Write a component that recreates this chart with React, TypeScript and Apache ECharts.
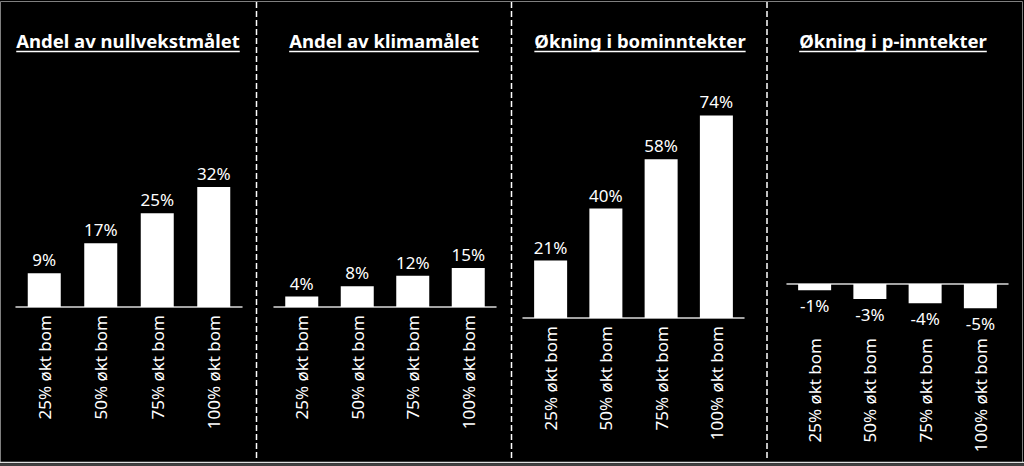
import React, { useEffect, useRef } from "react";
import * as echarts from "echarts";

const categories = ["25% økt bom", "50% økt bom", "75% økt bom", "100% økt bom"];
const panelTitles = ["Andel av nullvekstmålet", "Andel av klimamålet", "Økning i bominntekter", "Økning i p-inntekter"];
const nullvekstValues = [9, 17, 25, 32];
const klimaValues = [4, 8, 12, 15];
const bomValues = [21, 40, 58, 74];
const pValues = [-1.3, -3.1, -4.0, -5.0];

const FONT = '"Noto Sans", "Open Sans", sans-serif';

export default function App() {
  const ref = useRef<HTMLDivElement>(null);
  useEffect(() => {
    document.body.style.margin = "0";
    document.body.style.background = "#000";
    const chart = echarts.init(ref.current!, undefined, { renderer: "svg" });

    const canvas = document.createElement("canvas");
    const ctx = canvas.getContext("2d")!;
    const titleFont = `bold 18.5px ${FONT}`;
    ctx.font = titleFont;

    const panelCenters = [128, 384, 640, 893];
    const titleY = 40;
    const underlineY = 51.5;

    const graphics: any[] = [];
    panelTitles.forEach((t, i) => {
      const w = ctx.measureText(t).width;
      graphics.push({
        type: "text",
        x: panelCenters[i],
        y: titleY,
        style: {
          text: t,
          fill: "#fff",
          font: titleFont,
          textAlign: "center",
          textVerticalAlign: "middle",
          align: "center",
          verticalAlign: "middle",
        },
      });
      graphics.push({
        type: "line",
        shape: { x1: panelCenters[i] - w / 2, y1: underlineY, x2: panelCenters[i] + w / 2, y2: underlineY },
        style: { stroke: "#fff", lineWidth: 1.5 },
      });
    });
    [256.5, 511.5, 767].forEach((x) => {
      graphics.push({
        type: "line",
        shape: { x1: x, y1: 2, x2: x, y2: 461 },
        style: { stroke: "#fff", lineWidth: 1.5, lineDash: [6, 3] },
      });
    });
    graphics.push({
      type: "rect",
      shape: { x: 0.5, y: 1.5, width: 1022, height: 461 },
      style: { fill: "none", stroke: "#7f7f7f", lineWidth: 1 },
    });
    graphics.push({
      type: "line",
      shape: { x1: 0, y1: 462.5, x2: 1024, y2: 462.5 },
      style: { stroke: "#e0e0e0", lineWidth: 1.5 },
    });
    graphics.push({
      type: "line",
      shape: { x1: 0, y1: 465, x2: 1024, y2: 465 },
      style: { stroke: "#808080", lineWidth: 1 },
    });

    const grids = [
      { left: 16, width: 226, top: 157, height: 150 },
      { left: 274, width: 222, top: 203, height: 104 },
      { left: 523, width: 221, top: 99, height: 219 },
      { left: 787, width: 221, top: 284, height: 29 },
    ];
    const yRanges = [
      [0, 40],
      [0, 40],
      [0, 80],
      [-6, 0],
    ];
    const labelMargins = [8, 8, 8, 25];
    const seriesData = [nullvekstValues, klimaValues, bomValues, pValues];

    const option: any = {
      animation: false,
      backgroundColor: "#000",
      grid: grids,
      xAxis: grids.map((_, i) => ({
        type: "category",
        gridIndex: i,
        data: categories,
        axisTick: { show: false },
        axisLine: { onZero: true, lineStyle: { color: "#d9d9d9", width: 1.5 } },
        axisLabel: {
          interval: 0,
          rotate: 90,
          margin: labelMargins[i],
          color: "#fff",
          fontSize: 17,
          fontFamily: FONT,
        },
      })),
      yAxis: grids.map((_, i) => ({
        type: "value",
        gridIndex: i,
        min: yRanges[i][0],
        max: yRanges[i][1],
        show: false,
        splitLine: { show: false },
      })),
      series: seriesData.map((d, i) => ({
        type: "bar",
        xAxisIndex: i,
        yAxisIndex: i,
        data: d,
        barWidth: 33,
        itemStyle: { color: "#fff" },
        label: {
          show: true,
          position: i === 3 ? "bottom" : "top",
          distance: i === 3 ? 7 : 5,
          color: "#fff",
          fontSize: 17,
          fontFamily: FONT,
          formatter: (p: any) => `${Math.round(p.value)}%`,
        },
      })),
      graphic: graphics,
    };
    chart.setOption(option);
    return () => chart.dispose();
  }, []);
  return <div ref={ref} style={{ width: 1024, height: 466, background: "#000" }} />;
}
